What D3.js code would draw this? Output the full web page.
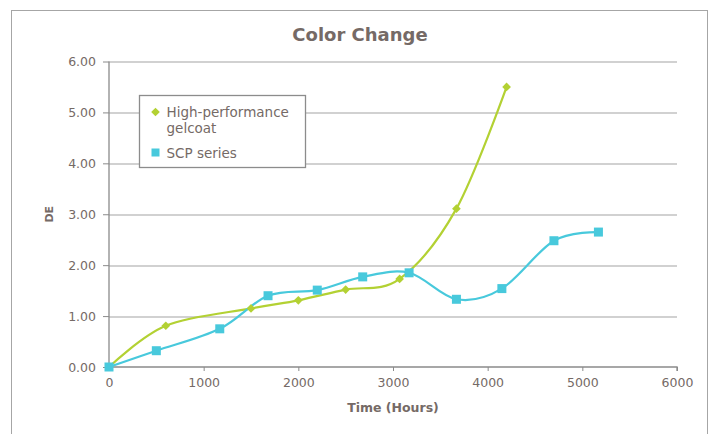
<!DOCTYPE html>
<html>
<head>
<meta charset="utf-8">
<script src="https://cdn.jsdelivr.net/npm/d3@7"></script>
<style>
  body { margin: 0; background: #fff; }
  svg text { font-family: "DejaVu Sans", sans-serif; fill: #756a66; }
</style>
</head>
<body>
<div id="chart"></div>
<script>
// series
const gelcoatHours = [0, 600, 1500, 2000, 2500, 3070, 3670, 4200];
const gelcoatDE    = [0, 0.81, 1.15, 1.31, 1.52, 1.73, 3.11, 5.50];
const scpHours = [0, 500, 1170, 1680, 2200, 2680, 3170, 3670, 4150, 4700, 5170];
const scpDE    = [0, 0.32, 0.75, 1.40, 1.51, 1.77, 1.85, 1.33, 1.54, 2.48, 2.65];
const xTicks = [0, 1000, 2000, 3000, 4000, 5000, 6000];
const yTicks = [0, 1, 2, 3, 4, 5, 6];
const seriesNames = ["High-performance gelcoat", "SCP series"];

const width = 712, height = 434;
const margin = { top: 61.5, right: 35, bottom: 67, left: 109 };
const innerW = width - margin.left - margin.right;
const innerH = height - margin.top - margin.bottom;

const green = "#b3d133", cyan = "#48c9dc";

const svg = d3.select("#chart").append("svg")
    .attr("width", width)
    .attr("height", height);

// outer chart border
svg.append("rect")
    .attr("x", 11.5).attr("y", 10.5)
    .attr("width", 696).attr("height", 440)
    .attr("fill", "none")
    .attr("stroke", "#a6a6a6");

const g = svg.append("g")
    .attr("transform", `translate(${margin.left},${margin.top})`);

const x = d3.scaleLinear().domain([0, 6000]).range([0, innerW]);
const y = d3.scaleLinear().domain([0, 6]).range([innerH, 0]);

// gridlines
g.selectAll(".grid")
    .data(yTicks.slice(1))
    .enter().append("line")
    .attr("x1", 0).attr("x2", innerW)
    .attr("y1", d => Math.round(y(d)) + 0.5)
    .attr("y2", d => Math.round(y(d)) + 0.5)
    .attr("stroke", "#a3a3a3");

const yAxis = g.append("g")
    .call(d3.axisLeft(y).tickValues(yTicks).tickSize(6).tickPadding(7)
        .tickFormat(d3.format(".2f")));
const xAxis = g.append("g")
    .attr("transform", `translate(0,${innerH})`)
    .call(d3.axisBottom(x).tickValues(xTicks).tickSize(4).tickPadding(7)
        .tickFormat(d3.format("d")));

[yAxis, xAxis].forEach(a => {
    a.select(".domain").attr("stroke", "#8a8a8a").attr("stroke-width", 1.3);
    a.selectAll(".tick line").attr("stroke", "#8a8a8a");
    a.selectAll(".tick text")
        .style("font-family", "DejaVu Sans, sans-serif")
        .style("font-size", "12.5px")
        .attr("fill", "#7a6f6b");
});
yAxis.select(".domain").attr("d", `M0,${innerH}V0`);
xAxis.select(".domain").attr("d", `M0,0H${innerW}V4`);

// title and axis titles
svg.append("text")
    .attr("x", 360).attr("y", 41)
    .attr("text-anchor", "middle")
    .style("font-size", "18px")
    .style("font-weight", "bold")
    .attr("fill", "#6f6561")
    .text("Color Change");

svg.append("text")
    .attr("transform", `translate(53,${margin.top + innerH / 2}) rotate(-90)`)
    .attr("text-anchor", "middle")
    .style("font-size", "11px")
    .style("font-weight", "bold")
    .attr("fill", "#6f6561")
    .text("DE");

svg.append("text")
    .attr("x", margin.left + innerW / 2).attr("y", 412)
    .attr("text-anchor", "middle")
    .style("font-size", "12.5px")
    .style("font-weight", "bold")
    .attr("fill", "#6f6561")
    .text("Time (Hours)");

const line = d3.line()
    .x(d => x(d[0]))
    .y(d => y(d[1]))
    .curve(d3.curveCardinal.tension(0));

const gelcoat = d3.zip(gelcoatHours, gelcoatDE);
const scp = d3.zip(scpHours, scpDE);

g.append("path").datum(gelcoat)
    .attr("d", line).attr("fill", "none")
    .attr("stroke", green).attr("stroke-width", 2.2);
g.append("path").datum(scp)
    .attr("d", line).attr("fill", "none")
    .attr("stroke", cyan).attr("stroke-width", 2.2);

const diamond = d3.symbol().type(d3.symbolDiamond2).size(48);
g.selectAll(".gel")
    .data(gelcoat)
    .enter().append("path")
    .attr("d", diamond)
    .attr("transform", d => `translate(${x(d[0])},${y(d[1])})`)
    .attr("fill", green);

g.selectAll(".scp")
    .data(scp)
    .enter().append("rect")
    .attr("x", d => x(d[0]) - 4.5)
    .attr("y", d => y(d[1]) - 4.5)
    .attr("width", 9).attr("height", 9)
    .attr("fill", cyan);

// legend
const legend = svg.append("g").attr("transform", "translate(139.5,95.5)");
legend.append("rect")
    .attr("width", 166).attr("height", 72)
    .attr("fill", "#fff")
    .attr("stroke", "#8c8c8c").attr("stroke-width", 1.3);

legend.append("path")
    .attr("d", diamond)
    .attr("transform", "translate(16,16.5)")
    .attr("fill", green);
const t1 = legend.append("text")
    .attr("x", 27).attr("y", 21.5)
    .style("font-size", "13.5px");
t1.append("tspan").text(seriesNames[0].split(" ")[0]);
t1.append("tspan").attr("x", 27).attr("dy", 16).text(seriesNames[0].split(" ")[1]);

legend.append("rect")
    .attr("x", 12).attr("y", 53)
    .attr("width", 8).attr("height", 8)
    .attr("fill", cyan);
legend.append("text")
    .attr("x", 27).attr("y", 62)
    .style("font-size", "13.5px")
    .text(seriesNames[1]);
</script>
</body>
</html>
